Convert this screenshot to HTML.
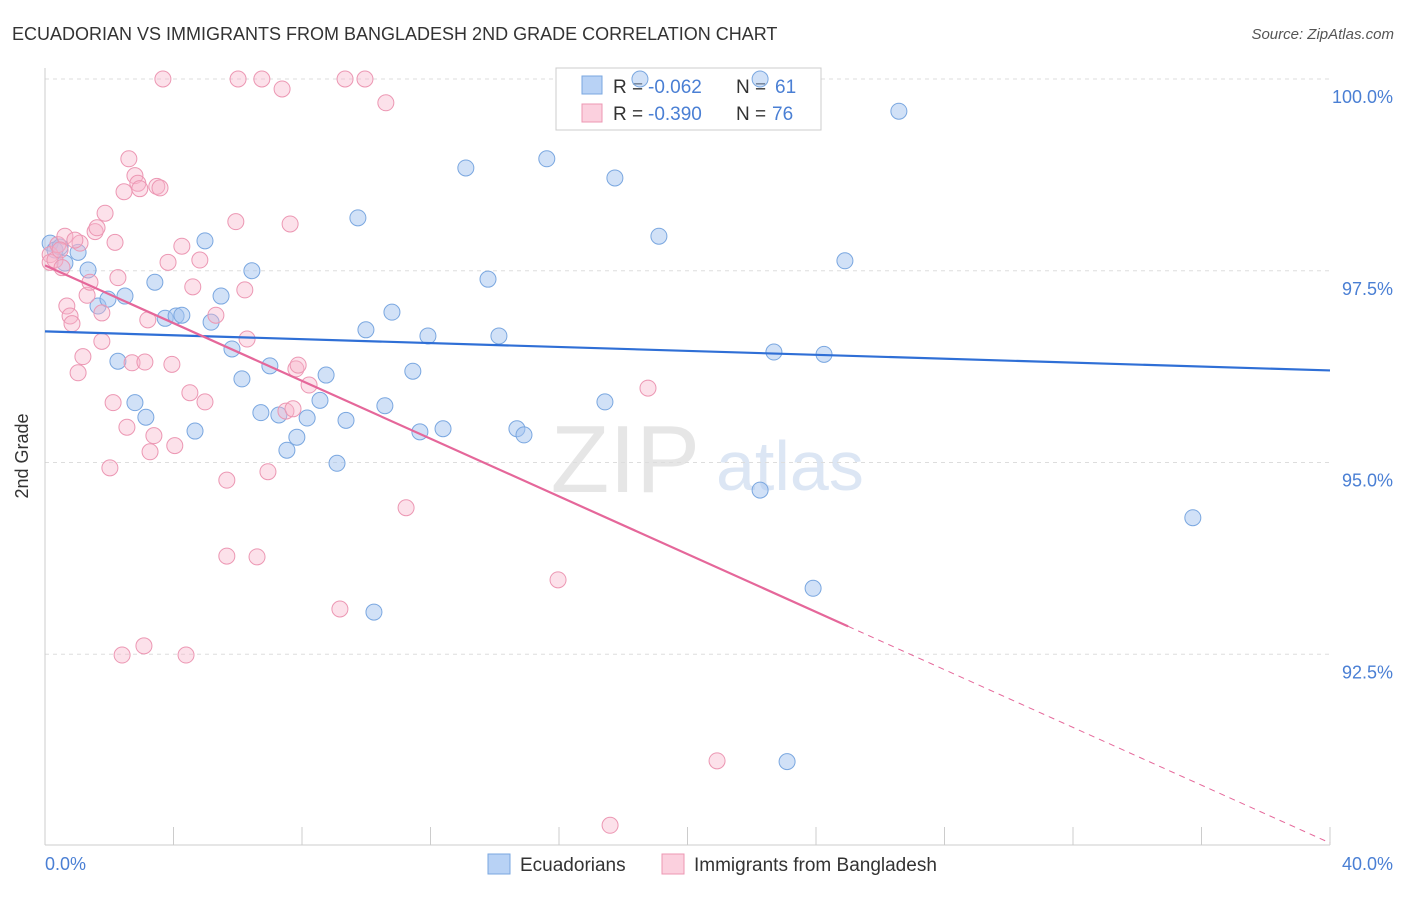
<!DOCTYPE html>
<html><head><meta charset="utf-8"><style>
body{margin:0;background:#fff;font-family:"Liberation Sans",sans-serif;}
svg text{font-family:"Liberation Sans",sans-serif;}
</style></head><body>
<svg width="1406" height="892" xmlns="http://www.w3.org/2000/svg">
<text x="12" y="40" font-size="18" fill="#333">ECUADORIAN VS IMMIGRANTS FROM BANGLADESH 2ND GRADE CORRELATION CHART</text>
<text x="1394" y="39" font-size="15" fill="#555" text-anchor="end" font-style="italic">Source: ZipAtlas.com</text>
<text x="700" y="492" font-size="96" fill="#e6e6e6" font-family="Liberation Serif" text-anchor="end">ZIP</text>
<text x="716" y="490" font-size="70" fill="#dce6f4">atlas</text>
<g id="grid"></g>
<g>
<rect x="556" y="68" width="265" height="62" fill="#fff" stroke="#ccc"/>
<rect x="582" y="76" width="20" height="18" fill="#b8d2f5" stroke="#7aa7e0"/>
<rect x="582" y="104" width="20" height="18" fill="#fbd0de" stroke="#ec97b3"/>
<text x="613" y="93" font-size="19" fill="#333">R =</text>
<text x="648" y="93" font-size="19" fill="#4a7fd4">-0.062</text>
<text x="736" y="93" font-size="19" fill="#333">N =</text>
<text x="775" y="93" font-size="19" fill="#4a7fd4">61</text>
<text x="613" y="120" font-size="19" fill="#333">R =</text>
<text x="648" y="120" font-size="19" fill="#4a7fd4">-0.390</text>
<text x="736" y="120" font-size="19" fill="#333">N =</text>
<text x="772" y="120" font-size="19" fill="#4a7fd4">76</text>
</g>
<g id="marks"></g>
<text x="28" y="456" font-size="18" fill="#333" transform="rotate(-90 28 456)" text-anchor="middle">2nd Grade</text>
<text x="45" y="870" font-size="18" fill="#4a7fd4">0.0%</text>
<text x="1393" y="870" font-size="18" fill="#4a7fd4" text-anchor="end">40.0%</text>
<g>
<rect x="488" y="854" width="22" height="20" fill="#b8d2f5" stroke="#7aa7e0"/>
<text x="520" y="871" font-size="19" fill="#333">Ecuadorians</text>
<rect x="662" y="854" width="22" height="20" fill="#fbd0de" stroke="#ec97b3"/>
<text x="694" y="871" font-size="19" fill="#333">Immigrants from Bangladesh</text>
</g>
</svg>
<script>
const blueX=[.16,.31,.47,.62,1.03,1.34,1.65,1.96,2.49,2.27,2.80,3.14,3.42,3.74,4.08,4.26,4.67,4.98,5.17,5.48,5.82,6.13,6.44,6.72,7.00,7.28,7.53,7.84,8.16,8.56,8.75,9.09,9.37,9.74,9.99,10.24,10.58,10.80,11.45,11.67,11.92,12.39,13.10,13.79,14.13,14.69,14.91,15.62,17.43,17.74,19.11,22.26,22.69,23.10,23.91,24.25,24.90,26.58,35.73,18.52,22.26];
const blueY=[97.86,97.77,97.81,97.60,97.74,97.51,97.04,97.13,97.17,96.32,95.78,95.59,97.35,96.88,96.91,96.92,95.41,97.89,96.83,97.17,96.48,96.09,97.50,95.65,96.26,95.62,95.16,95.33,95.58,95.81,96.14,94.99,95.55,98.19,96.73,93.05,95.74,96.96,96.19,95.40,96.65,95.44,98.84,97.39,96.65,95.44,95.36,98.96,95.79,98.71,97.95,94.64,96.44,91.10,93.36,96.41,97.63,99.58,94.28,100,100];
const pinkX=[.16,.16,.31,.40,.53,.62,.68,.78,.84,1.03,1.09,1.18,1.31,1.40,1.56,1.62,1.77,1.77,1.87,2.02,2.12,2.18,2.27,2.40,2.46,2.55,2.61,2.71,2.80,2.89,2.95,3.08,3.11,3.20,3.27,3.39,3.48,3.58,3.67,3.83,3.95,4.04,4.26,4.39,4.51,4.60,4.98,5.32,5.66,5.66,5.94,6.01,6.22,6.29,6.60,6.75,6.94,7.38,7.50,7.63,7.72,7.81,7.88,8.22,9.18,9.34,9.96,10.61,11.24,15.97,17.59,18.77,20.92,4.82,.47,.93];
const pinkY=[97.71,97.61,97.64,97.84,97.54,97.95,97.04,96.91,96.81,96.17,97.86,96.38,97.18,97.35,98.01,98.06,96.95,96.58,98.25,94.93,95.78,97.87,97.41,92.49,98.53,95.46,98.96,96.30,98.74,98.64,98.57,92.61,96.31,96.86,95.14,95.35,98.60,98.58,100,97.61,96.28,95.22,97.82,92.49,95.91,97.29,95.79,96.92,94.77,93.78,98.14,100,97.25,96.61,93.77,100,94.88,99.87,95.67,98.11,95.70,96.22,96.27,96.01,93.09,100,100,99.69,94.41,93.47,90.27,95.97,91.11,97.64,97.77,97.90];
const yTicks=[100,97.5,95,92.5];
const yTickLabels=["100.0%","97.5%","95.0%","92.5%"];
const blueTrend=[96.71,96.20];
const pinkTrend=[97.57,90.04];
const pinkSolidEnd=25;
const xs=v=>45+v/40*1285, ys=v=>79+(100-v)*76.7;
const NS="http://www.w3.org/2000/svg";
function mk(t,a,p){const e=document.createElementNS(NS,t);for(const k in a)e.setAttribute(k,a[k]);p.appendChild(e);return e;}
const g=document.getElementById('grid'), m=document.getElementById('marks');
yTicks.forEach((t,i)=>{
 const l=mk('line',{x1:45,x2:1330,y1:ys(t),y2:ys(t),stroke:'#ddd','stroke-dasharray':'4,4'},g);
 
 
 const tx=mk('text',{x:1393,y:ys(t)+24,'font-size':18,fill:'#4a7fd4','text-anchor':'end'},g);
 tx.textContent=yTickLabels[i];
 
 
});
const ax=mk('line',{x1:45,x2:45,y1:68,y2:845,stroke:'#ccc'},g);


const bx=mk('line',{x1:45,x2:1330,y1:845,y2:845,stroke:'#ccc'},g);


for(let i=0;i<=10;i++){const t=mk('line',{x1:xs(i*4),x2:xs(i*4),y1:827,y2:845,stroke:'#ccc'},g);
 
 }
blueX.forEach((x,i)=>{const c=mk('circle',{cx:xs(x),cy:ys(blueY[i]),r:8,fill:'rgba(163,196,240,0.5)',stroke:'#7aa7e0','stroke-width':1},m);
 
 });
pinkX.forEach((x,i)=>{const c=mk('circle',{cx:xs(x),cy:ys(pinkY[i]),r:8,fill:'rgba(248,180,202,0.4)',stroke:'#ec97b3','stroke-width':1},m);
 
 });
const bl=mk('line',{x1:xs(0),y1:ys(blueTrend[0]),x2:xs(40),y2:ys(blueTrend[1]),stroke:'#2f6fd6','stroke-width':2.2},m);


const pv=x=>pinkTrend[0]+(pinkTrend[1]-pinkTrend[0])*x/40;
const pl=mk('line',{x1:xs(0),y1:ys(pv(0)),x2:xs(pinkSolidEnd),y2:ys(pv(pinkSolidEnd)),stroke:'#e5679a','stroke-width':2.2},m);


const pd=mk('line',{x1:xs(pinkSolidEnd),y1:ys(pv(pinkSolidEnd)),x2:xs(40),y2:ys(pv(40)),stroke:'#e5679a','stroke-width':1,'stroke-dasharray':'6,5'},m);


</script>
</body></html>
